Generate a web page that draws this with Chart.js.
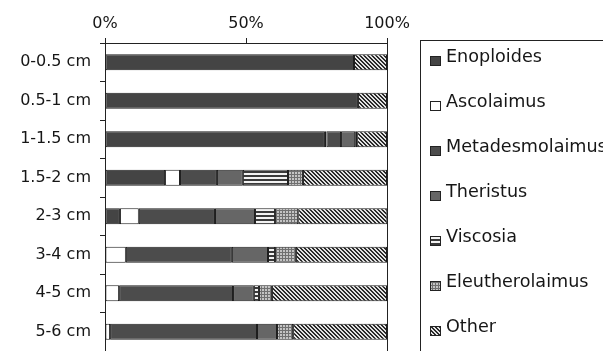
<!DOCTYPE html>
<html>
<head>
<meta charset="utf-8">
<title>Nematode genera by depth</title>
<script src="https://cdn.jsdelivr.net/npm/chart.js@4.4.0/dist/chart.umd.min.js"></script>
<style>
  body { margin: 0; background: #fff; }
  #wrap { width: 603px; height: 351px; position: relative; }
</style>
</head>
<body>
<div id="wrap"><canvas id="depthChart"></canvas></div>
<script>
// Depth layers (rows) and relative abundance (%) per genus
const depths = ['0-0.5 cm', '0.5-1 cm', '1-1.5 cm', '1.5-2 cm', '2-3 cm', '3-4 cm', '4-5 cm', '5-6 cm'];
const genera = ['Enoploides', 'Ascolaimus', 'Metadesmolaimus', 'Theristus', 'Viscosia', 'Eleutherolaimus', 'Other'];

const enoploides      = [88.3, 89.7, 78.0, 21.3,  5.3,  0.0,  0.0,  0.0];
const ascolaimus      = [ 0.0,  0.0,  0.5,  5.3,  6.7,  7.4,  5.0,  1.8];
const metadesmolaimus = [ 0.0,  0.0,  5.2, 13.1, 27.0, 37.6, 40.4, 52.1];
const theristus       = [ 0.0,  0.0,  5.0,  9.2, 14.2, 12.8,  7.4,  7.1];
const viscosia        = [ 0.0,  0.0,  0.7, 16.0,  7.1,  2.5,  1.8,  0.0];
const eleutherolaimus = [ 0.0,  0.0,  0.0,  5.3,  8.2,  7.4,  4.6,  5.7];
const other           = [11.7, 10.3, 10.6, 29.8, 31.6, 32.3, 40.8, 33.3];

const xTicks = [0, 50, 100];

// small tiled fills for the hatched genera
function makePattern(size, draw) {
  const c = document.createElement('canvas');
  c.width = size;
  c.height = size;
  const g = c.getContext('2d');
  draw(g, size);
  return g.createPattern(c, 'repeat');
}

const stripes = makePattern(4, function(g, s) {
  g.fillStyle = '#3a3a3a';
  g.fillRect(0, 0, s, s);
  g.fillStyle = '#f2f2f2';
  g.fillRect(0, 1, s, 2);
});

const grid = makePattern(3, function(g, s) {
  g.fillStyle = '#c4c4c4';
  g.fillRect(0, 0, s, s);
  g.fillStyle = '#707070';
  g.fillRect(0, 0, s, 1);
  g.fillRect(0, 0, 1, s);
});

const hatch = makePattern(4, function(g, s) {
  g.fillStyle = '#e2e2e2';
  g.fillRect(0, 0, s, s);
  g.fillStyle = '#2a2a2a';
  for (let i = 0; i < s; i++) {
    g.fillRect(i, i, 1, 1);
    g.fillRect((i + 1) % s, i, 1, 1);
  }
});

const fills = ['#444444', '#ffffff', '#4c4c4c', '#666666', stripes, grid, hatch];
const series = [enoploides, ascolaimus, metadesmolaimus, theristus, viscosia, eleutherolaimus, other];

const FONT = 'DejaVu Sans';
const INK = '#161616';

// boxed legend on the right, one genus per line
const boxLegend = {
  id: 'boxLegend',
  afterDraw(chart) {
    const ctx = chart.ctx;
    ctx.save();
    ctx.strokeStyle = '#222';
    ctx.lineWidth = 1;
    ctx.strokeRect(420.5, 40.5, 300, 400);
    ctx.font = '17.6px "' + FONT + '"';
    ctx.textBaseline = 'middle';
    ctx.textAlign = 'left';
    chart.data.datasets.forEach(function(ds, i) {
      const yc = 57 + i * 45;
      ctx.fillStyle = ds.backgroundColor;
      ctx.fillRect(430, yc - 1, 10, 9);
      ctx.strokeStyle = '#222';
      ctx.strokeRect(430.5, yc - 0.5, 10, 9);
      ctx.fillStyle = INK;
      ctx.fillText(ds.label, 446, yc);
    });
    ctx.restore();
  }
};

new Chart(document.getElementById('depthChart'), {
  type: 'bar',
  data: {
    labels: depths,
    datasets: genera.map(function(name, i) {
      return {
        label: name,
        // empty segments are left out so they leave no border stub
        data: series[i].map(function(v) { return v > 0 ? v : null; }),
        backgroundColor: fills[i],
        borderColor: '#1e1e1e',
        borderWidth: 1,
        borderSkipped: false,
        barPercentage: 0.42,
        categoryPercentage: 1
      };
    })
  },
  options: {
    indexAxis: 'y',
    responsive: true,
    maintainAspectRatio: false,
    animation: false,
    layout: { padding: { left: 0, right: 216, top: 0, bottom: 0 } },
    plugins: {
      legend: { display: false },
      tooltip: { enabled: false }
    },
    scales: {
      x: {
        position: 'top',
        stacked: true,
        min: 0,
        max: 100,
        afterBuildTicks: function(scale) {
          scale.ticks = xTicks.map(function(v) { return { value: v }; });
        },
        afterFit: function(scale) { scale.height = 43; },
        ticks: {
          color: INK,
          padding: 5,
          font: { family: FONT, size: 16 },
          callback: function(v) { return v + '%'; }
        },
        grid: {
          drawOnChartArea: true,
          color: function(c) { return c.tick && c.tick.value === 100 ? '#222' : 'rgba(0,0,0,0)'; },
          tickColor: '#222',
          tickLength: 5
        },
        border: { display: true, color: '#222' }
      },
      y: {
        stacked: true,
        afterFit: function(scale) {
          scale.width = 105;
          scale.paddingTop = 0;
          scale.paddingBottom = 0;
        },
        ticks: {
          color: INK,
          padding: 9,
          font: { family: FONT, size: 16 }
        },
        grid: {
          offset: true,
          drawOnChartArea: false,
          tickColor: '#222',
          tickLength: 5
        },
        border: { display: true, color: '#222' }
      }
    }
  },
  plugins: [boxLegend]
});
</script>
</body>
</html>
